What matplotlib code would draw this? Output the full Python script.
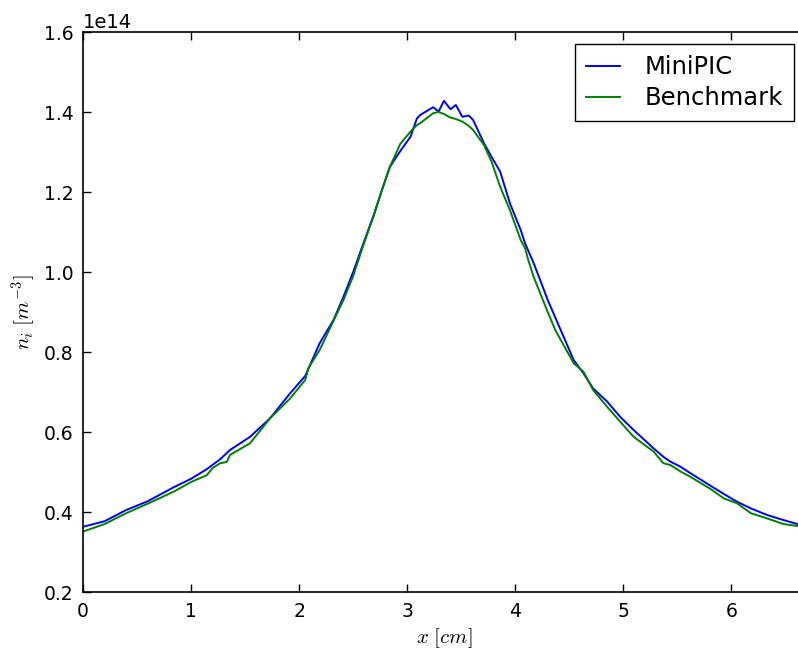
import matplotlib
matplotlib.use("Agg")
import matplotlib.pyplot as plt
import numpy as np

plt.rcParams['mathtext.fontset'] = 'cm'
plt.rcParams['font.family'] = ['DejaVu Sans']

# MiniPIC (x in cm, n_i in 1e14 m^-3)
x_mini = [0.0, 0.2, 0.4, 0.6, 0.84, 1.0, 1.145, 1.27, 1.36, 1.546, 1.73, 1.917,
          2.056, 2.19, 2.318, 2.41, 2.50, 2.595, 2.69, 2.766, 2.84, 2.935, 3.03,
          3.09, 3.12, 3.24, 3.29, 3.34, 3.40, 3.45, 3.51, 3.57, 3.61, 3.71, 3.78,
          3.86, 3.95, 4.05, 4.09, 4.17, 4.23, 4.3, 4.42, 4.54, 4.63, 4.72, 4.85,
          4.97, 5.095, 5.28, 5.37, 5.435, 5.53, 5.62, 5.81, 5.93, 6.05, 6.18,
          6.33, 6.48, 6.61]
n_mini = [0.363, 0.377, 0.405, 0.427, 0.462, 0.483, 0.507, 0.532, 0.555, 0.588,
          0.634, 0.697, 0.74, 0.822, 0.88, 0.938, 1.0, 1.072, 1.1425, 1.205,
          1.263, 1.302, 1.338, 1.384, 1.3925, 1.412, 1.401, 1.428, 1.407, 1.4175,
          1.388, 1.391, 1.38, 1.322, 1.288, 1.251, 1.172, 1.105, 1.072, 1.022,
          0.98, 0.93, 0.855, 0.78, 0.747, 0.709, 0.676, 0.638, 0.605, 0.559,
          0.538, 0.526, 0.513, 0.497, 0.465, 0.445, 0.426, 0.409, 0.3925, 0.38,
          0.37]

# Benchmark
x_bench = [0.0, 0.2, 0.4, 0.6, 0.84, 1.0, 1.145, 1.20, 1.27, 1.33, 1.36, 1.546,
           1.73, 1.917, 2.056, 2.086, 2.19, 2.318, 2.41, 2.50, 2.595, 2.69, 2.766,
           2.84, 2.935, 3.03, 3.09, 3.12, 3.24, 3.29, 3.34, 3.40, 3.45, 3.51, 3.57,
           3.61, 3.71, 3.78, 3.86, 3.95, 4.05, 4.09, 4.12, 4.17, 4.23, 4.3, 4.37,
           4.54, 4.63, 4.72, 4.85, 4.97, 5.095, 5.28, 5.37, 5.435, 5.53, 5.62,
           5.81, 5.93, 6.05, 6.18, 6.33, 6.48, 6.61]
n_bench = [0.351, 0.37, 0.397, 0.421, 0.451, 0.475, 0.492, 0.51, 0.522, 0.525,
           0.5425, 0.572, 0.634, 0.684, 0.73, 0.76, 0.805, 0.878, 0.93, 0.99,
           1.068, 1.14, 1.205, 1.263, 1.32, 1.351, 1.3675, 1.372, 1.397, 1.40,
           1.395, 1.386, 1.3825, 1.376, 1.365, 1.355, 1.3175, 1.276, 1.213, 1.155,
           1.08, 1.06, 1.03, 0.988, 0.947, 0.90, 0.855, 0.772, 0.751, 0.705, 0.663,
           0.626, 0.588, 0.551, 0.522, 0.5175, 0.501, 0.488, 0.457, 0.434, 0.422,
           0.397, 0.384, 0.37, 0.365]

xticks = [0, 1, 2, 3, 4, 5, 6]
yticks = [0.2e14, 0.4e14, 0.6e14, 0.8e14, 1.0e14, 1.2e14, 1.4e14, 1.6e14]

fig = plt.figure(figsize=(7.98, 6.55), dpi=100)
ax = fig.add_axes([83/798, 63/655, 723/798, 560/655])

ax.plot(x_mini, np.array(n_mini) * 1e14, color=(0, 0, 1), lw=1.4, label='MiniPIC')
ax.plot(x_bench, np.array(n_bench) * 1e14, color=(0, 0.5, 0), lw=1.4, label='Benchmark')

ax.set_xlim(0, 6.69)
ax.set_ylim(0.2e14, 1.6e14)
ax.set_xticks(xticks)
ax.set_yticks(yticks)
ax.tick_params(direction='in', top=True, right=False, length=6, width=1, labelsize=13.5, pad=7)
ax.spines['right'].set_visible(False)
for s in ax.spines.values():
    s.set_linewidth(1.2)
ax.yaxis.get_offset_text().set_fontsize(14)

ax.set_xlabel(r'$x\ [cm]$', fontsize=15)
ax.set_ylabel(r'$n_i\ [m^{-3}]$', fontsize=15)

leg = ax.legend(loc='upper right', fontsize=17.5, fancybox=False, framealpha=1,
                edgecolor='black', handlelength=1.4, handletextpad=1.0,
                borderaxespad=0.5, borderpad=0.45, labelspacing=0.3)
leg.get_frame().set_linewidth(1.0)

fig.savefig('out.png', dpi=100)
